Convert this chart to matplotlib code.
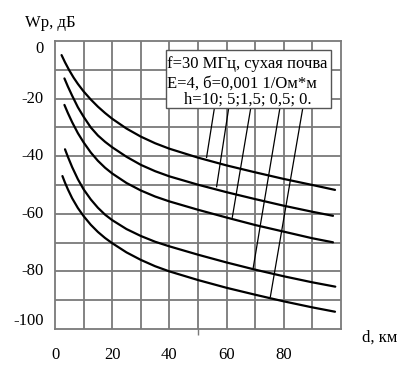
import matplotlib
matplotlib.use("Agg")
import matplotlib.pyplot as plt
from matplotlib.patches import Rectangle

plt.rcParams['font.family'] = ['Liberation Serif', 'DejaVu Serif']

# Curves (d in km, Wp in dB) for h = 10; 5; 1.5; 0.5; 0
d1 = [2.3, 3.5, 5, 6.5, 8, 10, 12.5, 15, 17.5, 20, 25, 30, 35, 40, 50, 60, 70, 80, 90, 97.9]
w1 = [-4.9, -7.4, -10.2, -12.7, -14.9, -17.5, -20.3, -22.8, -25.0, -27.0, -30.4, -33.2, -35.5,
      -37.4, -40.5, -43.2, -45.6, -47.9, -50.0, -51.7]
d2 = [3.3, 4.5, 6, 8, 10, 12.5, 15, 17.5, 20, 25, 30, 35, 40, 50, 60, 70, 80, 90, 97.2]
w2 = [-13.0, -15.8, -19.0, -23.0, -26.3, -30.0, -32.8, -35.0, -36.9, -40.2, -43.0, -45.2, -47.0,
      -49.9, -52.5, -54.9, -57.2, -59.3, -60.7]
d3 = [3.3, 4.5, 6, 8, 10, 12.5, 15, 17.5, 20, 25, 30, 35, 40, 50, 60, 70, 80, 90, 97.2]
w3 = [-22.2, -25.0, -28.2, -32.0, -35.2, -38.7, -41.6, -44.0, -46.0, -49.3, -51.9, -54.0, -55.7,
      -58.6, -61.3, -63.9, -66.2, -68.5, -69.9]
d4 = [3.5, 4.5, 6, 8, 10, 12.5, 15, 17.5, 20, 25, 30, 35, 40, 50, 60, 70, 80, 90, 98]
w4 = [-37.6, -40.2, -43.8, -48.0, -51.5, -55.0, -57.9, -60.3, -62.2, -65.3, -67.7, -69.7, -71.3,
      -74.2, -76.9, -79.4, -81.7, -83.8, -85.3]
d5 = [2.6, 3.5, 4.5, 6, 8, 10, 12.5, 15, 17.5, 20, 25, 30, 35, 40, 50, 60, 70, 80, 90, 97.9]
w5 = [-46.9, -49.2, -51.5, -54.6, -58.0, -60.8, -63.8, -66.3, -68.4, -70.2, -73.4, -76.0, -78.2,
      -80.0, -83.0, -85.7, -88.1, -90.4, -92.5, -94.0]
curves_d = [d1, d2, d3, d4, d5]
curves_w = [w1, w2, w3, w4, w5]

# Leader lines from the legend text to each curve
lead_top_d = [55.7, 60.7, 68.4, 78.6, 86.6]
lead_top_w = [-23.5, -23.5, -23.5, -23.5, -23.5]
lead_bot_d = [53.0, 56.5, 62.0, 69.3, 75.3]
lead_bot_w = [-40.4, -50.6, -61.2, -78.8, -88.8]

xtick_vals = [0, 20, 40, 60, 80]
ytick_vals = [0, -20, -40, -60, -80, -100]
legend_lines = ["f=30 МГц, сухая почва", "E=4, б=0,001 1/Ом*м", "h=10; 5;1,5; 0,5; 0."]

fig = plt.figure(figsize=(4.08, 3.77), dpi=100)
ax = fig.add_axes([55/408, 48/377, 286/408, 288/377])
ax.set_xlim(0, 100)
ax.set_ylim(-100, 0)

gridc = '#7a7a7a'
for x in range(10, 100, 10):
    ax.axvline(x, color=gridc, lw=1.3, zorder=1)
for y in range(-90, 0, 10):
    ax.axhline(y, color=gridc, lw=1.3, zorder=1)
for s in ax.spines.values():
    s.set_color(gridc)
    s.set_linewidth(1.3)

for dd, ww in zip(curves_d, curves_w):
    ax.plot(dd, ww, color='black', lw=1.6, zorder=3,
            solid_joinstyle='round', solid_capstyle='round')

for a, b, c, e in zip(lead_top_d, lead_bot_d, lead_top_w, lead_bot_w):
    ax.plot([a, b], [c, e], color='black', lw=0.9, zorder=3)

# legend box
ax.add_patch(Rectangle((0.387, 0.768), 0.578, 0.200, transform=ax.transAxes,
                       facecolor='white', edgecolor='#555555', lw=1.0, zorder=4))
fs = 12
ax.text(0.393, 0.919, legend_lines[0], transform=ax.transAxes, fontsize=fs,
        ha='left', va='center', zorder=5)
ax.text(0.393, 0.853, legend_lines[1], transform=ax.transAxes, fontsize=fs,
        ha='left', va='center', zorder=5)
ax.text(0.673, 0.795, legend_lines[2], transform=ax.transAxes, fontsize=fs,
        ha='center', va='center', zorder=5)

# ticks
ax.set_xticks([])
ax.set_yticks([])
ax.set_xticks([50], minor=True)
ax.tick_params(which='minor', axis='x', length=4, width=1.0, color=gridc,
               direction='out', labelbottom=False)
ax.tick_params(which='minor', axis='y', left=False)
for v in xtick_vals:
    ax.text(v, -0.09, str(v), transform=ax.get_xaxis_transform(), fontsize=fs,
            ha='center', va='center')
for v in ytick_vals:
    va = 'center'
    if v == 0:
        va = 'top'
    elif v == -100:
        va = 'bottom'
    ax.text(-0.04, v, str(v), transform=ax.get_yaxis_transform(), fontsize=fs,
            ha='right', va=va)

fig.text(25/408, 1 - 23/377, "Wp, дБ", fontsize=fs, ha='left', va='center')
fig.text(362/408, 1 - 338/377, "d, км", fontsize=fs, ha='left', va='center')

fig.savefig("out.png", dpi=100)
